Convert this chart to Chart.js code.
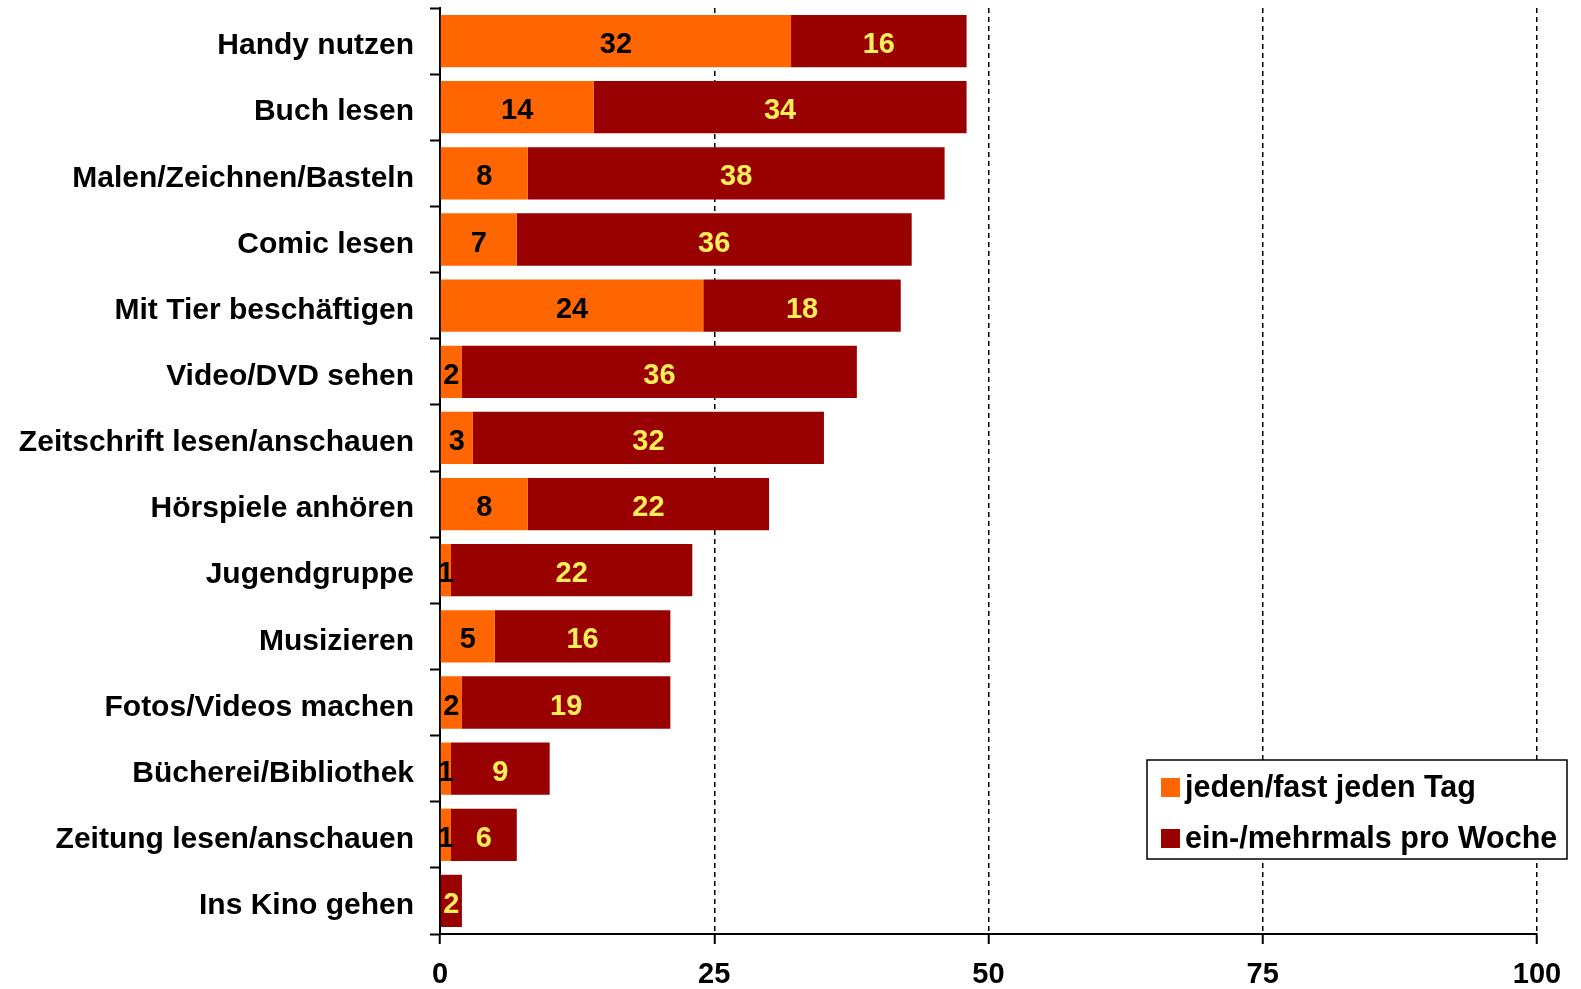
<!DOCTYPE html>
<html>
<head>
<meta charset="utf-8">
<script src="https://cdn.jsdelivr.net/npm/chart.js@4"></script>
<style>
  body { margin: 0; background: #fff; }
  #wrap { width: 1581px; height: 989px; }
</style>
</head>
<body>
<div id="wrap"><canvas id="freizeitChart" width="1581" height="989"></canvas></div>
<script>
// categories and values (percent)
const categories = [
    'Handy nutzen', 'Buch lesen', 'Malen/Zeichnen/Basteln', 'Comic lesen',
    'Mit Tier beschäftigen', 'Video/DVD sehen', 'Zeitschrift lesen/anschauen',
    'Hörspiele anhören', 'Jugendgruppe', 'Musizieren', 'Fotos/Videos machen',
    'Bücherei/Bibliothek', 'Zeitung lesen/anschauen', 'Ins Kino gehen'
];
const dailyValues = [32, 14, 8, 7, 24, 2, 3, 8, 1, 5, 2, 1, 1, 0];
const weeklyValues = [16, 34, 38, 36, 18, 36, 32, 22, 22, 16, 19, 9, 6, 2];
const seriesNames = ['jeden/fast jeden Tag', 'ein-/mehrmals pro Woche'];
const xTicks = [0, 25, 50, 75, 100];

const FONT = '"Liberation Sans", Arial, sans-serif';

// numbers in the middle of each segment
const segmentLabels = {
    id: 'segmentLabels',
    afterDatasetsDraw(chart) {
        const ctx = chart.ctx;
        ctx.save();
        ctx.font = 'bold 29px ' + FONT;
        ctx.textAlign = 'center';
        ctx.textBaseline = 'middle';
        chart.data.datasets.forEach((ds, i) => {
            const meta = chart.getDatasetMeta(i);
            ctx.fillStyle = i === 0 ? '#000000' : '#FFEE58';
            meta.data.forEach((bar, j) => {
                const v = ds.data[j];
                if (!v) return;
                ctx.fillText(String(v), (bar.x + bar.base) / 2, bar.y + 4);
            });
        });
        ctx.restore();
    }
};

// boxed legend in the lower right
const boxLegend = {
    id: 'boxLegend',
    afterDraw(chart) {
        const ctx = chart.ctx;
        const x = 1147, y = 760, w = 420, h = 99;
        ctx.save();
        ctx.fillStyle = '#fff';
        ctx.fillRect(x, y, w, h);
        ctx.strokeStyle = '#000';
        ctx.lineWidth = 1.5;
        ctx.strokeRect(x, y, w, h);
        ctx.font = 'bold 30.5px ' + FONT;
        ctx.textBaseline = 'middle';
        ctx.textAlign = 'left';
        chart.data.datasets.forEach((ds, i) => {
            const cy = y + 27 + i * 51;
            ctx.fillStyle = ds.backgroundColor;
            ctx.fillRect(x + 14, cy - 9, 19, 19);
            ctx.fillStyle = '#000';
            ctx.fillText(ds.label, x + 38, cy + 2);
        });
        ctx.restore();
    }
};

const ctx = document.getElementById('freizeitChart').getContext('2d');
const freizeitChart = new Chart(ctx, {
    type: 'bar',
    data: {
        labels: categories,
        datasets: [{
            label: seriesNames[0],
            data: dailyValues,
            backgroundColor: '#FF6600',
            categoryPercentage: 0.79,
            barPercentage: 1.0
        }, {
            label: seriesNames[1],
            data: weeklyValues,
            backgroundColor: '#990000',
            categoryPercentage: 0.79,
            barPercentage: 1.0
        }]
    },
    options: {
        indexAxis: 'y',
        responsive: false,
        animation: false,
        layout: { padding: { top: 8, right: 44, left: 0, bottom: 0 } },
        plugins: {
            legend: { display: false },
            tooltip: { enabled: false }
        },
        scales: {
            x: {
                stacked: true,
                min: 0,
                max: 100,
                afterBuildTicks: (scale) => {
                    scale.ticks = xTicks.map(v => ({ value: v }));
                },
                afterFit: (scale) => {
                    scale.height = 55;
                    scale.paddingLeft = 0;
                    scale.paddingRight = 0;
                },
                grid: {
                    color: (c) => c.tick && c.tick.value === 0 ? 'rgba(0,0,0,0)' : '#000',
                    lineWidth: 1.5,
                    tickColor: '#000',
                    tickLength: 10,
                    tickWidth: 2,
                    tickBorderDash: []
                },
                border: { display: true, color: '#000', width: 2, dash: [5, 4] },
                ticks: {
                    color: '#000',
                    padding: 14,
                    font: { family: FONT, size: 29, weight: 'bold' }
                }
            },
            y: {
                stacked: true,
                afterFit: (scale) => {
                    scale.width = 440;
                    scale.paddingTop = 0;
                    scale.paddingBottom = 0;
                },
                grid: {
                    offset: true,
                    drawOnChartArea: false,
                    tickColor: '#000',
                    tickLength: 10,
                    tickWidth: 2
                },
                border: { display: true, color: '#000', width: 2 },
                ticks: {
                    color: '#000',
                    padding: 16,
                    labelOffset: 5,
                    font: { family: FONT, size: 30, weight: 'bold' }
                }
            }
        }
    },
    plugins: [segmentLabels, boxLegend]
});
</script>
</body>
</html>
